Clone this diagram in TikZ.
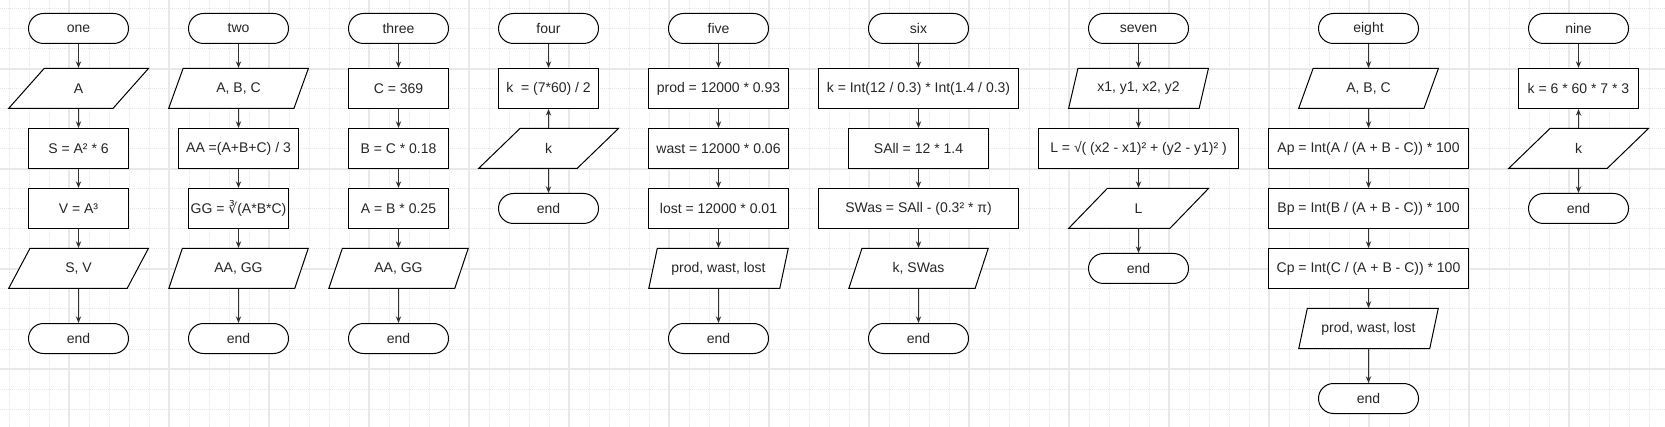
\documentclass[tikz,border=0pt]{standalone}
\usepackage{fontspec}
\setmainfont{Liberation Sans}
\newfontfamily\djv{DejaVu Sans}
\usetikzlibrary{shapes.geometric,arrows.meta}
\definecolor{gmajor}{HTML}{E8E8E8}
\definecolor{gminor}{HTML}{E6E6E6}
\definecolor{txt}{HTML}{262626}
\definecolor{arrc}{HTML}{333333}
\tikzset{
  base/.style={draw=black, line width=0.75pt, fill=white, text=txt, font=\fontsize{10.5pt}{12pt}\selectfont, inner sep=0pt},
  term/.style={base, rectangle, rounded corners=11.25pt, minimum width=75pt, minimum height=22.5pt},
  proc/.style={base, rectangle, minimum width=#1, minimum height=30pt},
  proc/.default=75pt,
  iobox/.style={base, trapezium, trapezium left angle=63.435, trapezium right angle=116.565, trapezium stretches=true, minimum width=105pt, minimum height=30pt},
  arr/.style={draw=arrc, line width=0.75pt, -{Stealth[length=5pt,width=4pt]}},
}
\begin{document}
\begin{tikzpicture}[x=0.75pt,y=-0.75pt]
\useasboundingbox (0,0) rectangle (1665,427);
\fill[white] (0,0) rectangle (1665,427);
% grid
\foreach \x in {9,29,...,1665} \draw[gminor, line width=0.75pt, dash pattern=on 0.75pt off 0.75pt] (\x,0) -- (\x,427);
\foreach \y in {9,29,...,427} \draw[gminor, line width=0.75pt, dash pattern=on 0.75pt off 0.75pt] (0,\y) -- (1665,\y);
\foreach \x in {69,169,...,1665} \draw[gmajor, line width=1.5pt] (\x,0) -- (\x,427);
\foreach \y in {69,169,...,427} \draw[gmajor, line width=1.5pt] (0,\y) -- (1665,\y);

% column one
\node[term] (t1) at (78.5,28.5) {one};
\node[iobox] (a1) at (78.5,88.5) {A};
\node[proc] (b1) at (78.5,148.5) {S = A² * 6};
\node[proc] (c1) at (78.5,208.5) {V = A³};
\node[iobox] (d1) at (78.5,268.5) {S, V};
\node[term] (e1) at (78.5,338.5) {end};
\draw[arr] (t1) -- (a1); \draw[arr] (a1) -- (b1); \draw[arr] (b1) -- (c1); \draw[arr] (c1) -- (d1); \draw[arr] (d1) -- (e1);

% column two
\node[term] (t2) at (238.5,28.5) {two};
\node[iobox] (a2) at (238.5,88.5) {A, B, C};
\node[proc=90pt] (b2) at (238.5,148.5) {AA =(A+B+C) / 3};
\node[proc] (c2) at (238.5,208.5) {GG = {\djv ∛}(A*B*C)};
\node[iobox] (d2) at (238.5,268.5) {AA, GG};
\node[term] (e2) at (238.5,338.5) {end};
\draw[arr] (t2) -- (a2); \draw[arr] (a2) -- (b2); \draw[arr] (b2) -- (c2); \draw[arr] (c2) -- (d2); \draw[arr] (d2) -- (e2);

% column three
\node[term] (t3) at (398.5,28.5) {three};
\node[proc] (a3) at (398.5,88.5) {C = 369};
\node[proc] (b3) at (398.5,148.5) {B = C * 0.18};
\node[proc] (c3) at (398.5,208.5) {A = B * 0.25};
\node[iobox] (d3) at (398.5,268.5) {AA, GG};
\node[term] (e3) at (398.5,338.5) {end};
\draw[arr] (t3) -- (a3); \draw[arr] (a3) -- (b3); \draw[arr] (b3) -- (c3); \draw[arr] (c3) -- (d3); \draw[arr] (d3) -- (e3);

% column four
\node[term] (t4) at (548.5,28.5) {four};
\node[proc] (a4) at (548.5,88.5) {k~ = (7*60) / 2};
\node[iobox] (b4) at (548.5,148.5) {k};
\node[term] (e4) at (548.5,208.5) {end};
\draw[arr] (t4) -- (a4); \draw[arr] (b4) -- (a4); \draw[arr] (b4) -- (e4);

% column five
\node[term] (t5) at (718.5,28.5) {five};
\node[proc=105pt] (a5) at (718.5,88.5) {prod = 12000 * 0.93};
\node[proc=105pt] (b5) at (718.5,148.5) {wast = 12000 * 0.06};
\node[proc=105pt] (c5) at (718.5,208.5) {lost = 12000 * 0.01};
\node[iobox] (d5) at (718.5,268.5) {prod, wast, lost};
\node[term] (e5) at (718.5,338.5) {end};
\draw[arr] (t5) -- (a5); \draw[arr] (a5) -- (b5); \draw[arr] (b5) -- (c5); \draw[arr] (c5) -- (d5); \draw[arr] (d5) -- (e5);

% column six
\node[term] (t6) at (918.5,28.5) {six};
\node[proc=150pt] (a6) at (918.5,88.5) {k = Int(12 / 0.3) * Int(1.4 / 0.3)};
\node[proc=105pt] (b6) at (918.5,148.5) {SAll = 12 * 1.4};
\node[proc=150pt] (c6) at (918.5,208.5) {SWas = SAll - (0.3² * π)};
\node[iobox] (d6) at (918.5,268.5) {k, SWas};
\node[term] (e6) at (918.5,338.5) {end};
\draw[arr] (t6) -- (a6); \draw[arr] (a6) -- (b6); \draw[arr] (b6) -- (c6); \draw[arr] (c6) -- (d6); \draw[arr] (d6) -- (e6);

% column seven
\node[term] (t7) at (1138.5,28.5) {seven};
\node[iobox] (a7) at (1138.5,88.5) {x1, y1, x2, y2};
\node[proc=150pt] (b7) at (1138.5,148.5) {L = √( (x2 - x1)² + (y2 - y1)² )};
\node[iobox] (c7) at (1138.5,208.5) {L};
\node[term] (e7) at (1138.5,268.5) {end};
\draw[arr] (t7) -- (a7); \draw[arr] (a7) -- (b7); \draw[arr] (b7) -- (c7); \draw[arr] (c7) -- (e7);

% column eight
\node[term] (t8) at (1368.5,28.5) {eight};
\node[iobox] (a8) at (1368.5,88.5) {A, B, C};
\node[proc=150pt] (b8) at (1368.5,148.5) {Ap = Int(A / (A + B - C)) * 100};
\node[proc=150pt] (c8) at (1368.5,208.5) {Bp = Int(B / (A + B - C)) * 100};
\node[proc=150pt] (d8) at (1368.5,268.5) {Cp = Int(C / (A + B - C)) * 100};
\node[iobox] (f8) at (1368.5,328.5) {prod, wast, lost};
\node[term] (e8) at (1368.5,398.5) {end};
\draw[arr] (t8) -- (a8); \draw[arr] (a8) -- (b8); \draw[arr] (b8) -- (c8); \draw[arr] (c8) -- (d8); \draw[arr] (d8) -- (f8); \draw[arr] (f8) -- (e8);

% column nine
\node[term] (t9) at (1578.5,28.5) {nine};
\node[proc=90pt] (a9) at (1578.5,88.5) {k = 6 * 60 * 7 * 3};
\node[iobox] (b9) at (1578.5,148.5) {k};
\node[term] (e9) at (1578.5,208.5) {end};
\draw[arr] (t9) -- (a9); \draw[arr] (b9) -- (a9); \draw[arr] (b9) -- (e9);
\end{tikzpicture}
\end{document}
